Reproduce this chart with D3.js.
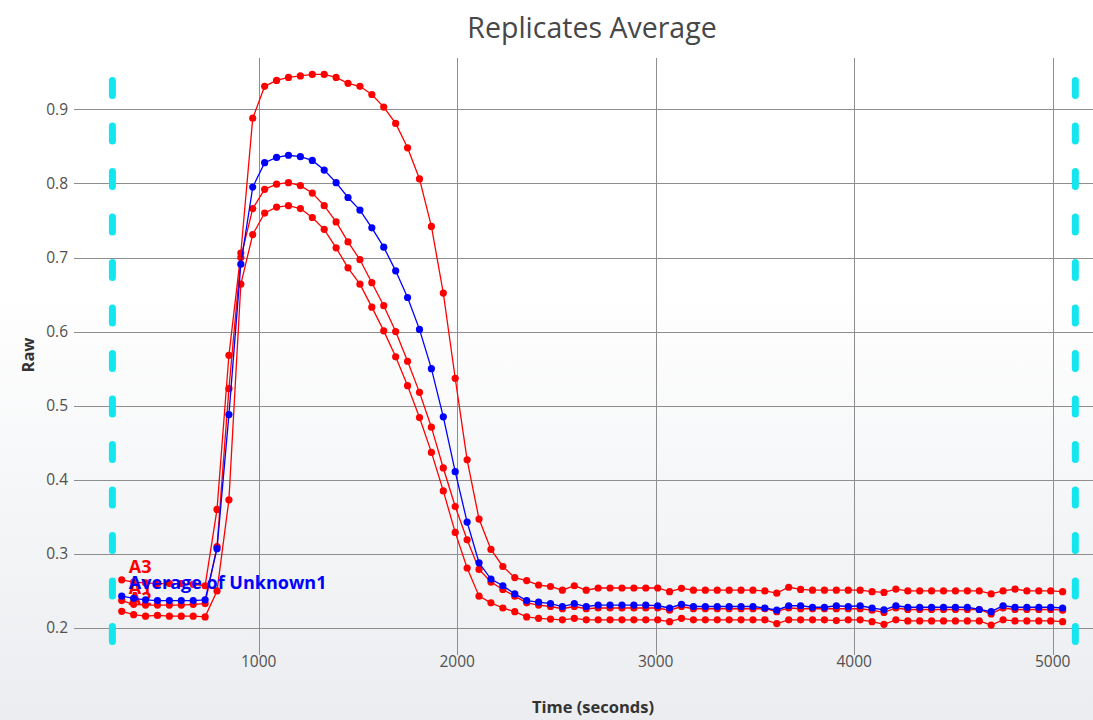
<!DOCTYPE html>
<html><head><meta charset="utf-8">
<script src="https://cdn.jsdelivr.net/npm/d3@7"></script>
<style>
html,body{margin:0;padding:0;background:#fff;}
svg{display:block;font-family:"Open Sans","Noto Sans",sans-serif;}
</style></head>
<body><svg id="c" width="1093" height="720"></svg>
<script>
const times = [310,370,430,490,550,610,670,730,790,850,910,970,1030,1090,1150,1210,1270,1330,1390,1450,1510,1570,1630,1690,1750,1810,1870,1930,1990,2050,2110,2170,2230,2290,2350,2410,2470,2530,2590,2650,2710,2770,2830,2890,2950,3010,3070,3130,3190,3250,3310,3370,3430,3490,3550,3610,3670,3730,3790,3850,3910,3970,4030,4090,4150,4210,4270,4330,4390,4450,4510,4570,4630,4690,4750,4810,4870,4930,4990,5050];

const seriesA3 = [0.265,0.262,0.261,0.260,0.260,0.260,0.259,0.257,
 0.360,0.568,0.706,0.888,0.931,0.939,0.943,0.945,0.947,0.947,0.943,0.935,
 0.931,0.920,0.903,0.881,0.848,0.806,0.742,0.652,0.537,0.427,
 0.347,0.306,0.283,0.268,0.264,0.258,0.256,0.251,0.257,0.251,
 0.254,0.254,0.254,0.254,0.254,0.254,0.249,0.2535,0.251,0.251,
 0.251,0.251,0.251,0.251,0.250,0.247,0.255,0.252,0.251,0.251,
 0.251,0.251,0.251,0.249,0.248,0.2525,0.250,0.250,0.250,0.250,
 0.250,0.250,0.250,0.246,0.250,0.2525,0.250,0.250,0.250,0.249];

const seriesA1 = [0.237,0.232,0.231,0.231,0.231,0.231,0.232,0.233,
 0.310,0.523,0.700,0.766,0.792,0.799,0.801,0.797,0.787,0.770,0.748,0.721,
 0.697,0.666,0.635,0.600,0.560,0.518,0.471,0.416,0.364,0.319,
 0.279,0.262,0.252,0.243,0.234,0.231,0.229,0.226,0.229,0.226,
 0.227,0.227,0.227,0.227,0.227,0.227,0.224,0.229,0.226,0.226,
 0.226,0.226,0.226,0.226,0.226,0.222,0.227,0.226,0.226,0.226,
 0.226,0.226,0.226,0.224,0.221,0.227,0.225,0.225,0.225,0.225,
 0.225,0.225,0.225,0.219,0.227,0.225,0.225,0.225,0.225,0.224];

const seriesA2 = [0.2225,0.218,0.216,0.217,0.216,0.216,0.216,0.215,
 0.250,0.373,0.664,0.731,0.760,0.768,0.770,0.766,0.754,0.738,0.713,0.686,
 0.664,0.633,0.601,0.566,0.527,0.484,0.437,0.385,0.329,0.281,
 0.243,0.234,0.227,0.222,0.215,0.213,0.212,0.211,0.213,0.211,
 0.211,0.211,0.211,0.211,0.211,0.211,0.2085,0.213,0.211,0.211,
 0.211,0.211,0.211,0.211,0.211,0.206,0.211,0.211,0.211,0.211,
 0.210,0.211,0.211,0.2085,0.205,0.211,0.2095,0.2095,0.2095,0.2095,
 0.2095,0.2095,0.2095,0.204,0.211,0.2095,0.2095,0.2095,0.2095,0.2085];

const seriesAvg = [0.243,0.240,0.238,0.237,0.237,0.237,0.237,0.238,
 0.307,0.488,0.691,0.795,0.828,0.835,0.838,0.836,0.831,0.818,0.801,0.781,
 0.764,0.740,0.714,0.682,0.646,0.603,0.550,0.485,0.411,0.343,
 0.288,0.266,0.257,0.246,0.237,0.235,0.233,0.229,0.233,0.229,
 0.231,0.231,0.231,0.231,0.231,0.230,0.227,0.232,0.229,0.229,
 0.229,0.229,0.229,0.229,0.227,0.224,0.230,0.230,0.228,0.228,
 0.230,0.229,0.230,0.227,0.2245,0.230,0.228,0.228,0.228,0.228,
 0.228,0.228,0.225,0.222,0.230,0.228,0.228,0.228,0.228,0.227];

const seriesNames = ["A3","A1","A2","Average of Unknown1"];
const seriesColors = ["#ff0000","#ff0000","#ff0000","#0000ff"];
const xTicks = [1000,2000,3000,4000,5000];
const yTicks = [0.2,0.3,0.4,0.5,0.6,0.7,0.8,0.9];
const cursorTimes = [263, 5114];

const svg = d3.select("#c");
const W = 1093, H = 720;

const defs = svg.append("defs");
const grad = defs.append("linearGradient").attr("id","bg").attr("x1",0).attr("y1",0).attr("x2",0).attr("y2",1);
grad.append("stop").attr("offset","0%").attr("stop-color","#ffffff");
grad.append("stop").attr("offset","40%").attr("stop-color","#ffffff");
grad.append("stop").attr("offset","100%").attr("stop-color","#ebedf0");
svg.append("rect").attr("width",W).attr("height",H).attr("fill","url(#bg)");

const x = d3.scaleLinear().domain([0,5000]).range([60.2,1052.7]);
const y = d3.scaleLinear().domain([0.2,0.9]).range([628,109.3]);

const plotTop = 58, gridLeft = 74, gridRight = 1093, tickBottom = 655;

// grid
const g = svg.append("g");
g.selectAll(".hg").data(yTicks).join("line")
  .attr("x1",gridLeft).attr("x2",gridRight)
  .attr("y1",d=>Math.round(y(d))+0.5).attr("y2",d=>Math.round(y(d))+0.5)
  .attr("stroke","#8e8e8e").attr("stroke-width",1);
g.selectAll(".vg").data(xTicks).join("line")
  .attr("x1",d=>Math.round(x(d))+0.5).attr("x2",d=>Math.round(x(d))+0.5)
  .attr("y1",plotTop).attr("y2",tickBottom)
  .attr("stroke","#8e8e8e").attr("stroke-width",1);

// tick labels
g.selectAll(".yl").data(yTicks).join("text")
  .attr("x",68).attr("y",d=>y(d)).attr("dy","0.35em")
  .attr("text-anchor","end").attr("font-size",15.5).attr("fill","#505050")
  .text(d=>d3.format(".1f")(d));
g.selectAll(".xl").data(xTicks).join("text")
  .attr("x",d=>x(d)).attr("y",662).attr("dy","0.35em")
  .attr("text-anchor","middle").attr("font-size",15.5).attr("fill","#505050")
  .text(d=>d);

// titles
svg.append("text").attr("x",592).attr("y",28).attr("dy","0.35em").attr("text-anchor","middle")
  .attr("font-size",28.5).attr("fill","#474747").text("Replicates Average");
svg.append("text").attr("x",593).attr("y",707).attr("dy","0.35em").attr("text-anchor","middle")
  .attr("font-size",16.5).attr("font-weight","bold").attr("fill","#333").text("Time (seconds)");
svg.append("text").attr("transform","translate(28,355) rotate(-90)").attr("dy","0.35em")
  .attr("text-anchor","middle").attr("font-size",16.5).attr("font-weight","bold").attr("fill","#333").text("Raw");

// cursors
svg.selectAll(".cur").data(cursorTimes).join("line")
  .attr("x1",d=>x(d)).attr("x2",d=>x(d)).attr("y1",80.5).attr("y2",645)
  .attr("stroke","#14e6ef").attr("stroke-width",7).attr("stroke-linecap","round")
  .attr("stroke-dasharray","15 30.5");

// series
const allSeries = [seriesA3, seriesA1, seriesA2, seriesAvg];
const line = d3.line().x(d=>x(d[0])).y(d=>y(d[1]));
const ptsOf = k => times.map((t,i)=>[t,allSeries[k][i]]);
const labelLayer = svg.append("g");
function addLabel(layer,k){
  const p = ptsOf(k)[0];
  layer.append("text").attr("x",x(p[0])+7).attr("y",y(p[1])-13).attr("dy","0.35em")
    .attr("font-size",18).attr("font-weight","bold").attr("fill",seriesColors[k])
    .text(seriesNames[k]);
}
// A1 label sits underneath everything (hidden by the average label)
addLabel(labelLayer,1);
function addSeries(k){
  const pts = ptsOf(k);
  const sg = svg.append("g");
  sg.append("path").attr("d",line(pts)).attr("fill","none")
    .attr("stroke",seriesColors[k]).attr("stroke-width",1.3);
  sg.selectAll("circle").data(pts).join("circle")
    .attr("cx",d=>x(d[0])).attr("cy",d=>y(d[1])).attr("r",3.6)
    .attr("fill",seriesColors[k]);
}
addSeries(0); addSeries(1); addSeries(2);
const redLabels = svg.append("g");
addLabel(redLabels,0); addLabel(redLabels,2);
addSeries(3);
addLabel(svg.append("g"),3);
</script></body></html>
